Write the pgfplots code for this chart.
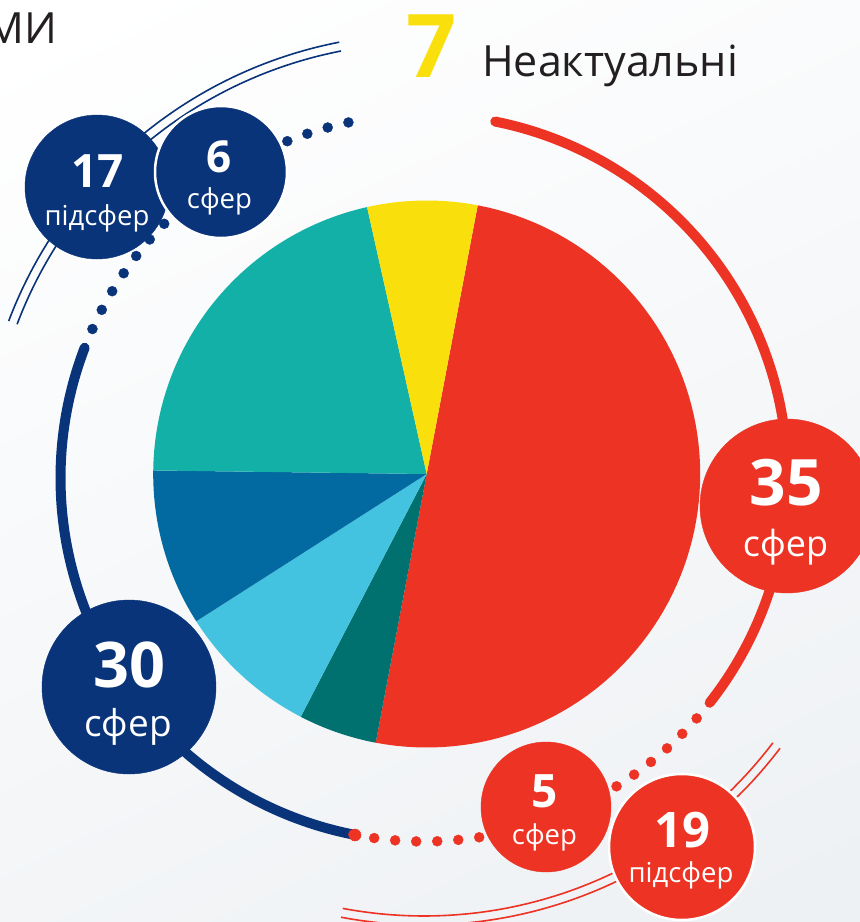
\documentclass[border=0pt]{standalone}
\usepackage{fontspec}
\setmainfont{Open Sans}
\usepackage{pgfplots}
\usepackage{pgfplotstable}
\pgfplotsset{compat=1.18}
\definecolor{cRed}{HTML}{EC3324}
\definecolor{cNavy}{HTML}{0A347A}
\definecolor{cYellow}{HTML}{F9E00C}
\definecolor{cTeal}{HTML}{13B0A8}
\definecolor{cDBlue}{HTML}{036AA1}
\definecolor{cLBlue}{HTML}{44C3E0}
\definecolor{cDTeal}{HTML}{00716F}
\definecolor{cText}{HTML}{231F20}
\definecolor{bgGrey}{HTML}{EEF1F4}

% pie slices, clockwise from the top boundary
\pgfplotstableread{
name value col
Red 54 cRed
DarkTeal 5 cDTeal
LightBlue 9 cLBlue
DarkBlue 10 cDBlue
Teal 23 cTeal
Yellow 7 cYellow
}\piedata

% text placed in picture pixel coordinates (y measured from the top)
\newcommand{\txt}[5]{\node[anchor=#1, inner sep=0, text=#2, font=#3] at (#4) {#5};}

\begin{document}
\begin{tikzpicture}[x=1pt,y=1pt]
\useasboundingbox (0,0) rectangle (860,922);
\shade[top color=white, bottom color=bgGrey, shading angle=25] (-100,-100) rectangle (960,1022);
\begin{axis}[at={(0,0)}, anchor=south west, scale only axis,
  width=860pt, height=922pt, xmin=0, xmax=860, ymin=0, ymax=922,
  y dir=reverse, hide axis, clip=true]

% double thin arcs
\addplot[cNavy, line width=1.6, domain=101:159.3, samples=80, no markers] ({424+444*cos(x)},{478-444*sin(x)});
\addplot[cNavy, line width=1.6, domain=101:159.3, samples=80, no markers] ({424+435*cos(x)},{478-435*sin(x)});
\addplot[cRed, line width=1.6, domain=-100.7:-37.2, samples=80, no markers] ({424+438*cos(x)},{478-438*sin(x)});
\addplot[cRed, line width=1.6, domain=-100.7:-37.2, samples=80, no markers] ({424+447*cos(x)},{478-447*sin(x)});

% thick ring arcs
\addplot[cRed, line width=10, line cap=round, domain=-38.2:78.7, samples=120, no markers] ({424+363.5*cos(x)},{478-363.5*sin(x)});
\addplot[cNavy, line width=10, line cap=round, domain=159:259, samples=120, no markers] ({424+363.5*cos(x)},{478-363.5*sin(x)});

% dotted parts
\addplot[only marks, mark=*, mark size=5, color=cRed, mark options={draw=none}, domain=-101.2:-41.4, samples=19] ({424+363.5*cos(x)},{478-363.5*sin(x)});
\addplot[only marks, mark=*, mark size=5, color=cNavy, mark options={draw=none}, domain=102:155.8, samples=17] ({424+363.5*cos(x)},{478-363.5*sin(x)});
\addplot[only marks, mark=*, mark size=6, color=cRed, mark options={draw=none}] coordinates {(355,835)};

% pie
\xdef\cur{79.25}
\pgfplotsinvokeforeach{0,...,5}{%
  \pgfplotstablegetelem{#1}{value}\of\piedata
  \pgfmathsetmacro{\nxt}{\cur-\pgfplotsretval/108*360}%
  \pgfplotstablegetelem{#1}{col}\of\piedata
  \edef\doslice{\noexpand\addplot[fill=\pgfplotsretval, draw=none, domain=\nxt:\cur, samples=90] ({426.7+273.5*cos(x)},{474-273.5*sin(x)}) -- (axis cs:426.7,474) -- cycle;}%
  \doslice
  \xdef\cur{\nxt}%
}

% bubbles
\addplot[only marks, mark=*, mark size=87, color=cRed, mark options={draw=none}] coordinates {(787,506)};
\addplot[only marks, mark=*, mark size=87, color=cNavy, mark options={draw=none}] coordinates {(129,687)};
\addplot[only marks, mark=*, mark size=72, color=cNavy, mark options={draw=none}] coordinates {(97,187)};
\addplot[only marks, mark=*, mark size=66, color=cNavy, mark options={draw=white, line width=2.5}] coordinates {(221,172)};
\addplot[only marks, mark=*, mark size=65, color=cRed, mark options={draw=none}] coordinates {(546,807)};
\addplot[only marks, mark=*, mark size=73, color=cRed, mark options={draw=white, line width=2.5}] coordinates {(682,847)};
\end{axis}

% texts (coordinates: x, 922 - y_pixel)
\txt{base}{cYellow}{\fontsize{88}{88}\selectfont\bfseries}{431.5,844}{7}
\txt{base west}{cText}{\fontsize{43}{43}\selectfont}{482,845}{Неактуальні}
\txt{base east}{cText}{\fontsize{43}{43}\selectfont}{57,878}{МИ}

\txt{base}{white}{\fontsize{64}{64}\selectfont\bfseries}{786.5,416}{35}
\txt{base}{white}{\fontsize{36}{36}\selectfont}{785.5,365}{сфер}
\txt{base}{white}{\fontsize{63}{63}\selectfont\bfseries}{129,234}{30}
\txt{base}{white}{\fontsize{37}{37}\selectfont}{128,185}{сфер}
\txt{base}{white}{\fontsize{46}{46}\selectfont\bfseries}{97.5,734}{17}
\txt{base}{white}{\fontsize{27.5}{27.5}\selectfont}{97,696}{підсфер}
\txt{base}{white}{\fontsize{44}{44}\selectfont\bfseries}{219,749}{6}
\txt{base}{white}{\fontsize{27.5}{27.5}\selectfont}{219.5,713}{сфер}
\txt{base}{white}{\fontsize{46}{46}\selectfont\bfseries}{544.5,114}{5}
\txt{base}{white}{\fontsize{27.5}{27.5}\selectfont}{544.5,77}{сфер}
\txt{base}{white}{\fontsize{49}{49}\selectfont\bfseries}{682,74}{19}
\txt{base}{white}{\fontsize{27.5}{27.5}\selectfont}{681,39}{підсфер}
\end{tikzpicture}
\end{document}
